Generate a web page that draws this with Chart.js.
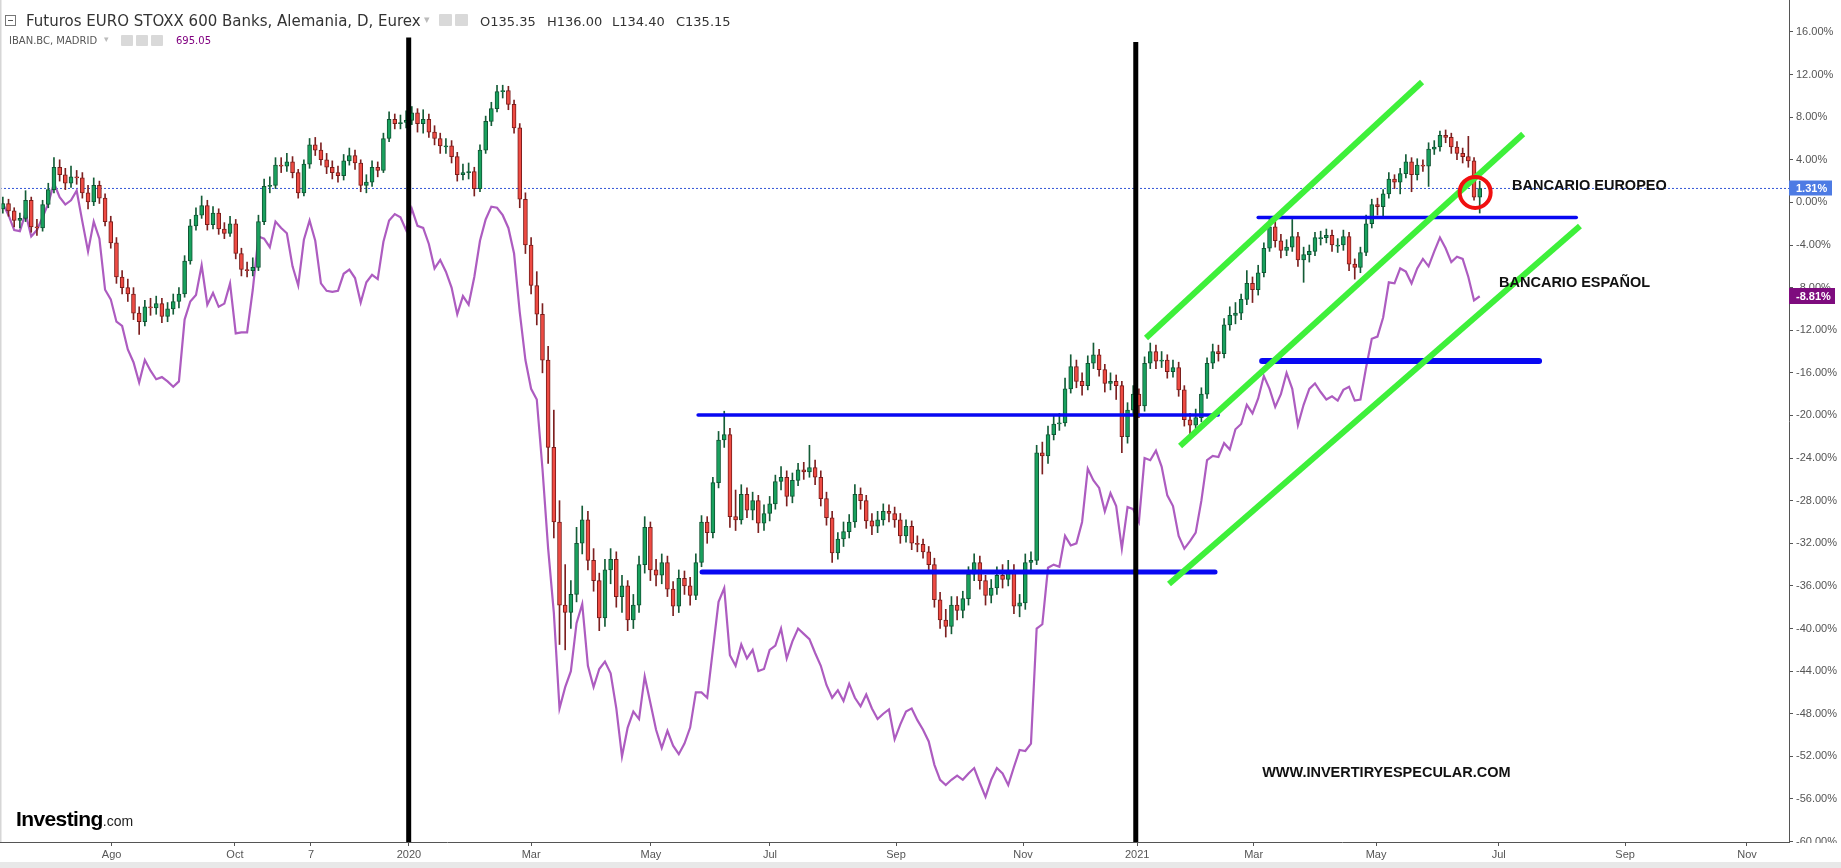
<!DOCTYPE html>
<html>
<head>
<meta charset="utf-8">
<title>Futuros EURO STOXX 600 Banks vs IBAN.BC</title>
<script src="https://cdn.jsdelivr.net/npm/chart.js@4.4.1/dist/chart.umd.min.js"></script>
<style>
  html, body { margin: 0; padding: 0; background: #fff; }
  #wrap { position: relative; width: 1841px; height: 868px; overflow: hidden; }
  #c { position: absolute; left: 0; top: 0; }
  .t { position: absolute; white-space: nowrap; font-family: "DejaVu Sans", Verdana, sans-serif; }
  .box { position: absolute; background: #d9d9d9; border-radius: 1px; }
  .collapse { position: absolute; left: 5px; top: 15px; width: 9px; height: 9px; border: 1px solid #777; }
  .collapse:after { content: ""; position: absolute; left: 2px; right: 2px; top: 4px; height: 1px; background: #555; }
</style>
</head>
<body>
<div id="wrap">
  <canvas id="c" width="1841" height="868"></canvas>

  <div class="collapse"></div>
  <div class="t" style="left:26px;top:12px;font-size:15px;line-height:18px;color:#333">Futuros EURO STOXX 600 Banks, Alemania, D, Eurex</div>
  <div class="t" style="left:424px;top:13px;font-size:11px;color:#bbb">▾</div>
  <div class="box" style="left:439px;top:14px;width:13px;height:12px"></div>
  <div class="box" style="left:455px;top:14px;width:13px;height:12px"></div>
  <div class="t" style="left:480px;top:13.5px;font-size:13px;line-height:16px;color:#333">O135.35</div>
  <div class="t" style="left:547px;top:13.5px;font-size:13px;line-height:16px;color:#333">H136.00</div>
  <div class="t" style="left:612px;top:13.5px;font-size:13px;line-height:16px;color:#333">L134.40</div>
  <div class="t" style="left:676px;top:13.5px;font-size:13px;line-height:16px;color:#333">C135.15</div>

  <div class="t" style="left:9px;top:35px;font-size:10px;line-height:12px;color:#555">IBAN.BC, MADRID</div>
  <div class="t" style="left:104px;top:34px;font-size:9px;color:#bbb">▾</div>
  <div class="box" style="left:121px;top:35px;width:12px;height:11px"></div>
  <div class="box" style="left:136px;top:35px;width:12px;height:11px"></div>
  <div class="box" style="left:151px;top:35px;width:12px;height:11px"></div>
  <div class="t" style="left:176px;top:35px;font-size:10px;line-height:12px;color:#800080">695.05</div>

  <div class="t" style="left:16px;top:807px;line-height:24px;font-family:'Liberation Sans',Arial,sans-serif;color:#000">
    <span style="font-size:21px;font-weight:bold;letter-spacing:-0.6px">Investing</span><span style="font-size:14px;color:#222">.com</span>
  </div>
</div>

<script>
// x axis runs in trading-bar units; each candle below covers two bars
const tickLabels = ['Ago', 'Oct', '7', '2020', 'Mar', 'May', 'Jul', 'Sep', 'Nov', '2021', 'Mar', 'May', 'Jul', 'Sep', 'Nov'];
const tickBars = [39.3, 82.7, 109.5, 144.0, 187.0, 229.2, 271.1, 315.5, 360.2, 400.4, 441.4, 484.5, 527.7, 572.2, 615.1];
const yTicks = [16, 12, 8, 4, 0, -4, -8, -12, -16, -20, -24, -28, -32, -36, -40, -44, -48, -52, -56, -60];

// Futuros EURO STOXX 600 Banks, % change: [open, high, low, close]
const euroOHLC = [
  [-0.6,0.5,-1.0,-0.1],[-0.1,0.3,-1.3,-0.8],[-0.8,-0.5,-2.3,-1.7],[-1.7,-1.0,-2.4,-1.5],[-1.5,1.1,-1.8,0.2],
  [0.2,0.5,-2.8,-2.3],[-2.3,-1.6,-3.1,-2.4],[-2.4,0.2,-2.7,-0.2],[-0.2,1.8,-0.5,1.2],[1.2,4.2,0.9,3.3],
  [3.3,4.0,2.0,2.6],[2.6,3.2,1.2,1.8],[1.8,3.4,1.4,2.4],[2.4,3.0,1.7,2.3],[2.3,2.8,0.4,0.9],
  [0.9,1.6,-0.6,0.0],[0.0,2.3,-0.3,1.6],[1.6,2.0,-0.1,0.4],[0.4,0.8,-2.2,-1.8],[-1.8,-1.3,-4.3,-3.8],
  [-3.8,-3.3,-7.6,-7.0],[-7.0,-6.4,-8.6,-8.0],[-8.0,-7.2,-9.3,-8.6],[-8.6,-8.0,-11.0,-10.4],[-10.4,-9.8,-12.4,-11.2],
  [-11.2,-9.2,-11.6,-9.8],[-9.8,-9.0,-10.6,-9.9],[-9.9,-8.8,-10.5,-9.5],[-9.5,-9.0,-11.3,-10.7],[-10.7,-9.4,-11.2,-10.0],
  [-10.0,-8.6,-10.5,-9.3],[-9.3,-8.0,-9.9,-8.6],[-8.6,-5.0,-8.9,-5.5],[-5.5,-1.6,-5.8,-2.2],[-2.2,-0.5,-2.6,-1.2],
  [-1.2,0.6,-1.5,-0.3],[-0.3,0.2,-2.6,-2.1],[-2.1,-0.4,-2.5,-1.0],[-1.0,-0.6,-3.0,-2.5],[-2.5,-1.9,-3.4,-2.9],
  [-2.9,-1.3,-3.2,-2.0],[-2.0,-1.6,-5.3,-4.8],[-4.8,-4.3,-6.9,-6.3],[-6.3,-5.6,-7.0,-6.4],[-6.4,-5.2,-6.9,-6.1],
  [-6.1,-1.2,-6.4,-1.8],[-1.8,2.2,-2.1,1.5],[1.5,2.4,0.9,1.6],[1.6,4.2,1.3,3.5],[3.5,4.2,2.8,3.4],
  [3.4,4.6,2.9,3.8],[3.8,4.3,2.3,2.8],[2.8,3.1,0.4,0.9],[0.9,4.0,0.6,3.6],[3.6,6.0,3.2,5.4],
  [5.4,6.1,4.4,4.9],[4.9,5.6,3.5,4.0],[4.0,4.6,2.7,3.3],[3.3,3.9,2.2,2.8],[2.8,3.4,1.9,2.5],
  [2.5,4.5,2.1,3.9],[3.9,5.1,3.5,4.4],[4.4,4.9,3.1,3.7],[3.7,4.0,1.0,1.6],[1.6,2.6,0.9,1.9],
  [1.9,3.9,1.5,3.3],[3.3,3.8,2.4,3.0],[3.0,6.5,2.8,6.0],[6.0,8.5,5.7,7.8],[7.8,8.3,6.9,7.4],
  [7.4,8.2,6.9,7.5],[7.5,8.6,7.0,7.7],[7.7,9.0,7.3,8.4],[8.4,8.8,6.6,7.4],[7.4,8.7,6.5,7.8],
  [7.8,8.3,6.1,6.6],[6.6,7.2,5.4,6.0],[6.0,6.5,4.6,5.3],[5.2,6.0,4.6,5.3],[5.3,5.8,3.7,4.3],
  [4.3,4.7,2.0,2.6],[2.6,3.6,2.1,2.8],[2.8,3.7,2.2,2.9],[2.9,3.3,0.6,1.3],[1.3,5.4,1.0,4.9],
  [4.9,8.1,4.6,7.6],[7.6,9.4,7.2,8.8],[8.8,11.0,8.5,10.4],[10.4,11.0,9.8,10.5],[10.5,10.9,8.7,9.2],
  [9.2,9.6,6.5,7.0],[7.0,7.4,-0.5,0.3],[0.3,0.9,-4.8,-4.0],[-4.0,-3.3,-8.6,-7.8],[-7.8,-6.5,-11.5,-10.5],
  [-10.5,-9.5,-16.0,-14.8],[-14.8,-13.5,-24.5,-23.0],[-23.0,-19.5,-31.5,-30.0],[-30.0,-28.0,-41.5,-37.8],[-37.8,-34.0,-42.0,-38.5],
  [-38.5,-35.5,-40.0,-36.8],[-36.8,-30.5,-37.5,-32.0],[-32.0,-28.5,-33.0,-29.8],[-29.8,-29.0,-34.5,-33.6],[-33.6,-32.5,-36.5,-35.5],
  [-35.5,-34.8,-40.2,-39.0],[-39.0,-33.5,-39.8,-34.5],[-34.5,-32.5,-35.8,-33.5],[-33.5,-32.8,-38.0,-37.0],[-37.0,-35.0,-38.5,-36.0],
  [-36.0,-35.5,-40.2,-39.2],[-39.2,-36.8,-40.0,-37.8],[-37.8,-33.2,-38.5,-34.0],[-34.0,-29.5,-34.8,-30.5],[-30.5,-30.0,-35.5,-34.5],
  [-34.5,-33.5,-36.0,-35.0],[-35.0,-33.0,-35.8,-33.8],[-33.8,-33.2,-37.0,-36.3],[-36.3,-35.6,-38.8,-37.9],[-37.9,-34.5,-38.5,-35.3],
  [-35.3,-34.6,-36.8,-36.0],[-36.0,-35.2,-37.8,-36.9],[-36.9,-33.0,-37.3,-33.8],[-33.8,-29.4,-34.2,-30.0],[-30.0,-29.5,-32.0,-31.0],
  [-31.0,-25.8,-31.5,-26.3],[-26.3,-21.5,-26.8,-22.3],[-22.3,-19.6,-23.0,-21.8],[-21.8,-21.2,-30.5,-29.5],[-29.5,-27.0,-30.8,-29.8],
  [-29.8,-26.5,-30.2,-27.4],[-27.4,-26.8,-29.6,-28.9],[-28.9,-27.2,-29.8,-28.0],[-28.0,-27.5,-31.0,-30.1],[-30.1,-28.4,-30.8,-29.2],
  [-29.2,-27.6,-29.9,-28.3],[-28.3,-25.6,-28.8,-26.2],[-26.2,-24.8,-27.0,-25.8],[-25.8,-25.2,-28.5,-27.6],[-27.6,-25.4,-28.2,-26.1],
  [-26.1,-24.5,-26.6,-25.1],[-25.1,-24.4,-26.0,-25.3],[-25.3,-22.8,-25.8,-24.9],[-24.9,-24.2,-26.5,-25.8],[-25.8,-25.2,-28.5,-27.8],
  [-27.8,-27.2,-30.3,-29.6],[-29.6,-29.0,-33.8,-32.9],[-32.9,-31.0,-33.5,-31.6],[-31.6,-30.0,-32.3,-30.9],[-30.9,-29.3,-31.5,-30.0],
  [-30.0,-26.5,-30.5,-27.4],[-27.4,-26.8,-28.8,-28.0],[-28.0,-27.5,-30.6,-29.9],[-29.9,-29.2,-31.2,-30.4],[-30.4,-29.0,-31.0,-29.8],
  [-29.8,-28.3,-30.3,-29.0],[-29.0,-28.4,-30.0,-29.2],[-29.2,-28.6,-30.5,-29.8],[-29.8,-29.2,-32.0,-31.3],[-31.3,-29.8,-31.9,-30.4],
  [-30.4,-29.9,-32.6,-32.0],[-32.0,-31.3,-32.8,-32.1],[-32.1,-31.6,-33.4,-32.8],[-32.8,-32.3,-34.8,-34.0],[-34.0,-33.4,-38.0,-37.3],
  [-37.3,-36.6,-40.0,-39.2],[-39.2,-38.2,-40.8,-39.8],[-39.8,-37.0,-40.5,-37.8],[-37.8,-37.0,-39.2,-38.3],[-38.3,-36.5,-39.0,-37.2],
  [-37.2,-34.2,-37.8,-34.9],[-34.9,-33.0,-35.5,-33.8],[-33.8,-33.2,-36.3,-35.5],[-35.5,-35.0,-37.8,-36.9],[-36.9,-35.4,-37.6,-36.2],
  [-36.2,-34.2,-36.8,-35.0],[-35.0,-34.0,-36.2,-35.4],[-35.4,-33.6,-36.0,-34.6],[-34.6,-34.0,-38.6,-37.9],[-37.9,-36.8,-38.9,-37.6],
  [-37.6,-33.0,-38.2,-33.8],[-33.8,-32.8,-34.5,-33.6],[-33.6,-22.8,-34.0,-23.5],[-23.5,-22.5,-25.5,-23.8],[-23.8,-21.0,-24.5,-21.8],
  [-21.8,-20.0,-22.3,-20.8],[-20.8,-19.8,-21.4,-20.7],[-20.7,-16.5,-21.0,-17.5],[-17.5,-14.3,-17.9,-15.4],[-15.4,-14.8,-17.4,-16.8],
  [-16.8,-16.0,-18.1,-17.2],[-17.2,-14.4,-17.6,-15.1],[-15.1,-13.2,-15.6,-14.3],[-14.3,-13.8,-16.3,-15.7],[-15.7,-15.2,-17.8,-17.0],
  [-17.0,-16.0,-17.6,-16.8],[-16.8,-16.2,-18.5,-17.2],[-17.2,-16.8,-23.5,-22.0],[-22.0,-18.8,-22.6,-19.5],[-19.5,-17.2,-20.0,-18.0],
  [-18.0,-17.5,-20.2,-19.1],[-19.1,-14.5,-19.6,-15.1],[-15.1,-13.2,-15.6,-14.0],[-14.0,-13.4,-15.6,-14.9],[-14.9,-14.0,-15.5,-14.8],
  [-14.8,-14.3,-16.5,-15.9],[-15.9,-14.8,-16.4,-15.5],[-15.5,-15.0,-18.2,-17.6],[-17.6,-17.2,-21.0,-20.4],[-20.4,-19.8,-21.8,-20.9],
  [-20.9,-19.4,-21.6,-20.2],[-20.2,-17.4,-20.6,-18.0],[-18.0,-14.6,-18.4,-15.1],[-15.1,-13.3,-15.6,-14.0],[-14.0,-13.4,-14.9,-14.2],
  [-14.2,-10.9,-14.6,-11.5],[-11.5,-9.8,-12.0,-10.6],[-10.6,-9.4,-11.4,-10.4],[-10.4,-8.6,-11.0,-9.1],[-9.1,-6.4,-9.6,-7.6],
  [-7.6,-7.0,-9.4,-8.2],[-8.2,-5.9,-8.7,-6.6],[-6.6,-3.8,-7.0,-4.3],[-4.3,-1.4,-4.6,-2.3],[-2.3,-1.8,-4.2,-3.6],
  [-3.6,-3.0,-5.2,-4.5],[-4.5,-3.5,-5.0,-4.2],[-4.2,-1.6,-4.6,-3.2],[-3.2,-2.8,-6.0,-5.4],[-5.4,-4.2,-7.5,-4.9],
  [-4.9,-4.0,-5.6,-4.6],[-4.6,-2.8,-5.0,-3.3],[-3.4,-2.7,-4.0,-3.3],[-3.3,-2.5,-3.8,-3.1],[-3.1,-2.6,-4.6,-4.0],
  [-4.1,-3.4,-4.7,-4.0],[-4.0,-2.6,-4.5,-3.2],[-3.2,-2.8,-6.4,-5.8],[-5.8,-5.3,-7.2,-6.1],[-6.1,-4.2,-6.6,-4.7],
  [-4.7,-1.2,-5.0,-2.0],[-2.0,0.3,-2.4,-0.2],[-0.2,0.4,-1.2,-0.4],[-0.4,1.2,-1.5,0.8],[0.8,2.8,0.4,2.2],
  [2.2,2.6,1.3,1.9],[1.9,3.2,0.8,2.7],[2.7,4.5,2.3,3.8],[3.8,4.2,1.0,2.6],[2.6,4.1,2.1,3.5],
  [3.5,4.0,2.9,3.4],[3.4,5.6,1.5,5.0],[5.0,5.8,4.5,5.2],[5.2,6.7,4.8,6.3],[6.3,6.8,5.6,6.1],
  [6.1,6.5,4.6,5.2],[5.2,5.7,4.0,4.6],[4.6,5.1,3.7,4.3],[4.3,6.2,3.3,3.9],[3.9,4.2,0.2,0.5],
  [0.5,2.0,-1.0,1.3]
];

// IBAN.BC (Madrid banks index), % change, one point per candle
const ibanLine = [
  -0.1,-1.2,-2.6,-2.7,-1.0,-3.2,-2.6,-1.4,-0.1,1.8,
  0.5,-0.2,0.2,1.1,-1.8,-4.6,-1.8,-3.4,-8.2,-9.1,
  -11.2,-11.6,-13.8,-15.0,-16.9,-14.8,-15.8,-16.6,-16.4,-16.8,
  -17.3,-16.8,-11.0,-9.3,-8.7,-5.9,-9.6,-8.5,-9.8,-9.5,
  -7.6,-12.3,-12.2,-12.2,-8.2,-3.2,-3.4,-4.2,-1.8,-2.4,
  -2.9,-6.0,-7.8,-3.5,-1.7,-3.6,-7.6,-8.3,-8.4,-8.3,
  -6.7,-6.3,-7.1,-9.4,-7.5,-6.8,-7.2,-3.7,-1.7,-1.1,
  -1.4,-2.6,-0.6,-2.2,-2.4,-3.9,-6.2,-5.4,-6.5,-8.0,
  -10.5,-8.8,-9.6,-7.0,-3.6,-1.6,-0.4,-0.5,-1.2,-2.4,
  -4.8,-10.3,-14.8,-17.5,-18.5,-25.0,-32.5,-38.5,-47.5,-45.5,
  -44.0,-39.5,-37.7,-43.5,-45.5,-43.8,-43.1,-44.2,-47.5,-52.0,
  -49.3,-47.8,-48.5,-44.5,-47.0,-49.5,-51.2,-49.6,-51.0,-51.8,
  -50.8,-49.3,-46.0,-46.0,-46.5,-42.0,-37.5,-36.2,-42.5,-43.5,
  -41.5,-42.8,-42.0,-44.0,-43.8,-42.0,-41.6,-40.0,-42.8,-41.2,
  -40.0,-40.5,-41.0,-42.3,-43.5,-45.3,-46.5,-45.8,-46.8,-45.2,
  -46.5,-47.3,-46.2,-47.5,-48.5,-48.0,-47.6,-50.4,-49.0,-47.8,
  -47.5,-48.6,-49.5,-50.6,-52.8,-54.2,-54.7,-54.2,-53.8,-54.2,
  -53.6,-53.1,-54.5,-55.8,-54.2,-53.1,-53.6,-54.7,-53.0,-51.4,
  -51.5,-50.8,-40.0,-39.6,-34.3,-34.0,-34.2,-31.3,-32.2,-32.0,
  -30.0,-25.0,-26.1,-26.8,-29.0,-27.3,-28.5,-32.5,-28.6,-28.8,
  -30.0,-24.0,-24.2,-23.3,-24.8,-27.5,-28.5,-31.3,-32.5,-31.8,
  -31.0,-28.0,-24.2,-23.8,-23.9,-22.6,-23.2,-21.3,-20.8,-19.0,
  -19.8,-18.4,-16.3,-17.5,-19.2,-18.0,-16.0,-17.5,-20.9,-19.0,
  -17.5,-17.0,-17.8,-18.5,-18.2,-18.6,-17.6,-17.3,-18.6,-18.5,
  -15.5,-12.8,-12.6,-10.8,-7.5,-7.6,-6.2,-6.5,-7.6,-6.2,
  -5.3,-6.0,-4.6,-3.3,-4.3,-5.6,-5.1,-5.3,-7.0,-9.2,
  -8.81
];

const lastEuro = 1.31;
const lastIban = -8.81;

// hand-drawn analysis, in chart units (bar, %)
const yearMarks = [[143.9, 15.47], [399.9, 15.06]];
const blueLevels = [[245.8, 428.9, -19.96], [247.2, 427.8, -34.69], [443.0, 555.0, -1.42], [444.4, 541.9, -14.89]];
const greenChannel = [[403.5, -12.73, 500.7, 11.30], [415.5, -22.87, 536.3, 6.42], [411.6, -35.82, 556.3, -2.22]];
const markCircle = [519.4, 0.93];
const noteTexts = ['BANCARIO EUROPEO', 'BANCARIO ESPAÑOL', 'WWW.INVERTIRYESPECULAR.COM'];
const noteAnchors = [[532.4, 1.54], [527.8, -7.57], [444.4, -53.56]];

const X_MAX = 629.9, Y_MIN = -60.04, Y_MAX = 19.0;
const FONT = '"Liberation Sans", Arial, sans-serif';

const candleX = euroOHLC.map((_, i) => 2 * i + 1);
const up = euroOHLC.map(d => d[3] >= d[0]);

const datasets = [];

datasets.push({
    type: 'line', order: 20,
    data: [{ x: 0, y: lastEuro }, { x: X_MAX, y: lastEuro }],
    borderColor: '#3457d8', borderWidth: 1, borderDash: [2, 2], pointRadius: 0
});

datasets.push({
    type: 'line', order: 19,
    data: ibanLine.map((v, i) => ({ x: candleX[i], y: v })),
    borderColor: '#ad5cc0', borderWidth: 2.2, pointRadius: 0, tension: 0
});

datasets.push({
    type: 'bar', order: 18, grouped: false,
    data: euroOHLC.map((d, i) => ({ x: candleX[i], y: [d[2], d[1]] })),
    backgroundColor: up.map(u => u ? '#145c37' : '#7d2020'),
    barThickness: 1, borderWidth: 0
});

datasets.push({
    type: 'bar', order: 17, grouped: false,
    data: euroOHLC.map((d, i) => ({ x: candleX[i], y: [d[0], d[3]] })),
    backgroundColor: up.map(u => u ? '#19a15e' : '#ee4b43'),
    borderColor: up.map(u => u ? '#0f5533' : '#7a1c1a'),
    borderWidth: 1, borderSkipped: false, barThickness: 4, minBarLength: 1
});

const blueWidths = [3.5, 5, 3.5, 6];
blueLevels.forEach((b, i) => {
    datasets.push({
        type: 'line', order: 10,
        data: [{ x: b[0], y: b[2] }, { x: b[1], y: b[2] }],
        borderColor: '#0808f2', borderWidth: blueWidths[i], pointRadius: 0, borderCapStyle: 'round'
    });
});

greenChannel.forEach(g => {
    datasets.push({
        type: 'line', order: 9,
        data: [{ x: g[0], y: g[1] }, { x: g[2], y: g[3] }],
        borderColor: '#3ef03a', borderWidth: 6, pointRadius: 0, borderCapStyle: 'butt'
    });
});

yearMarks.forEach(m => {
    datasets.push({
        type: 'line', order: 8,
        data: [{ x: m[0], y: m[1] }, { x: m[0], y: Y_MIN }],
        borderColor: '#000', borderWidth: 5, pointRadius: 0
    });
});

datasets.push({
    type: 'scatter', order: 1,
    data: [{ x: markCircle[0], y: markCircle[1] }],
    pointRadius: 15.5, pointBorderWidth: 4, pointBorderColor: '#f01010', pointBackgroundColor: 'rgba(0,0,0,0)'
});

const overlay = {
    id: 'overlay',
    afterDatasetsDraw(chart) {
        const { ctx, scales: { x, y } } = chart;
        ctx.save();
        ctx.font = 'bold 14.5px ' + FONT;
        ctx.fillStyle = '#111';
        ctx.textBaseline = 'middle';
        noteTexts.forEach((t, i) => {
            ctx.fillText(t, x.getPixelForValue(noteAnchors[i][0]), y.getPixelForValue(noteAnchors[i][1]));
        });
        ctx.restore();
    },
    afterDraw(chart) {
        const { ctx, chartArea: area, scales: { y } } = chart;
        ctx.save();
        // hide lower half of the clipped -60% label
        ctx.fillStyle = '#fff';
        ctx.fillRect(area.right + 1, area.bottom + 1, 60, 20);
        // bottom toolbar strip
        ctx.fillStyle = '#e8e8e8';
        ctx.fillRect(0, 862, chart.width, 6);
        // left frame
        ctx.fillStyle = '#d6d6d6';
        ctx.fillRect(0, 0, 1.5, area.bottom);

        const tag = (value, text, bg, w, h) => {
            const py = Math.round(y.getPixelForValue(value));
            ctx.fillStyle = bg;
            ctx.fillRect(area.right, py - h / 2, w, h);
            ctx.fillStyle = '#fff';
            ctx.font = 'bold 11px ' + FONT;
            ctx.textBaseline = 'middle';
            ctx.fillText(text, area.right + 7, py + 0.5);
        };
        tag(lastEuro, lastEuro.toFixed(2) + '%', '#4d7be4', 43, 15);
        tag(lastIban, lastIban.toFixed(2) + '%', '#7e0c7e', 46, 16);
        ctx.restore();
    }
};

// labels may overhang the plot edges, so no extra padding is reserved for them
const noEdgePadding = s => {
    s.paddingTop = 0; s.paddingBottom = 0; s.paddingLeft = 0; s.paddingRight = 0;
};

Chart.defaults.font.family = FONT;

new Chart(document.getElementById('c'), {
    type: 'bar',
    data: { datasets },
    options: {
        responsive: false,
        animation: false,
        events: [],
        devicePixelRatio: 1,
        layout: { padding: 0, autoPadding: false },
        plugins: { legend: { display: false }, tooltip: { enabled: false } },
        scales: {
            x: {
                type: 'linear', min: 0, max: X_MAX, offset: false,
                afterBuildTicks: s => { s.ticks = tickBars.map(v => ({ value: v })); },
                afterFit: s => { s.height = 26; noEdgePadding(s); },
                ticks: {
                    autoSkip: false, maxRotation: 0, padding: 2, color: '#555',
                    font: { size: 11 },
                    callback: (v, i) => tickLabels[i]
                },
                grid: { offset: false, drawOnChartArea: false, drawTicks: true, tickLength: 4, color: '#555' },
                border: { display: true, color: '#555' }
            },
            y: {
                type: 'linear', position: 'right', min: Y_MIN, max: Y_MAX,
                afterBuildTicks: s => { s.ticks = yTicks.map(v => ({ value: v })); },
                afterFit: s => { s.width = 52; noEdgePadding(s); },
                ticks: {
                    padding: 3, color: '#555', font: { size: 11 },
                    callback: v => v.toFixed(2) + '%'
                },
                grid: { drawOnChartArea: false, drawTicks: true, tickLength: 4, color: '#555' },
                border: { display: true, color: '#555' }
            }
        }
    },
    plugins: [overlay]
});
</script>
</body>
</html>
